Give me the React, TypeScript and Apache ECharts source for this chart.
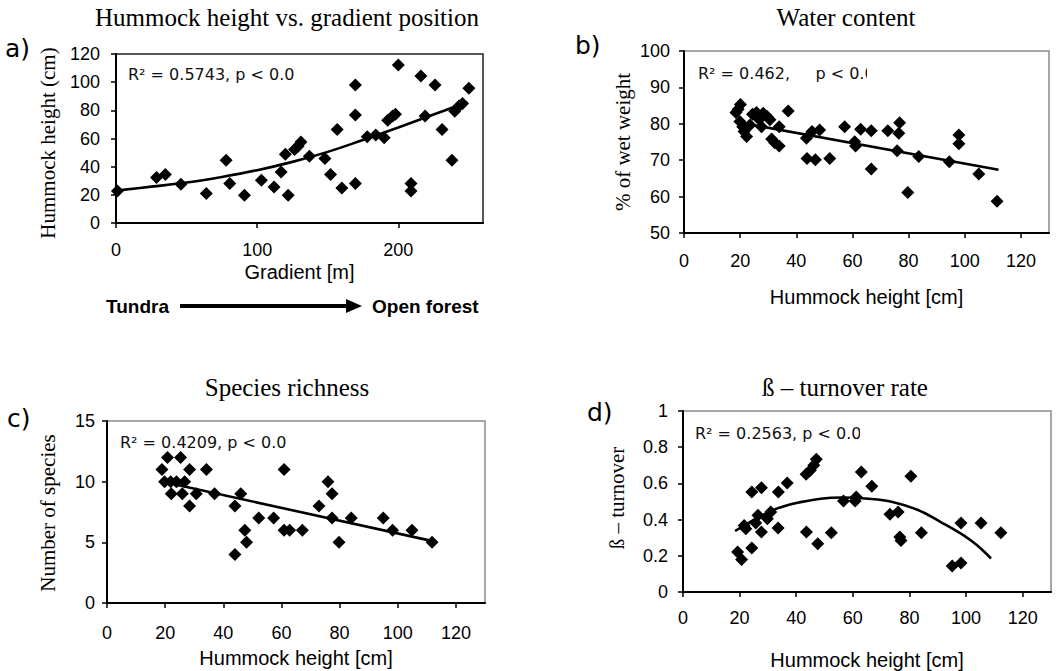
import React, { useEffect, useRef } from 'react';
import * as echarts from 'echarts';

// Panel a: gradient position [m] vs hummock height (cm)
const pointsA: [number, number][] = [
  [1, 22.8], [28.7, 32.3], [35, 34.4], [46, 27.5], [64, 20.9], [78, 44.6], [80.6, 28], [91, 19.7],
  [103, 30.4], [112, 25.6], [117, 36.3], [120, 48.8], [122, 19.7], [126.5, 52.2], [129, 54.5],
  [131, 57.6], [137, 47.4], [148, 45.8], [152, 34.4], [156.7, 66.4], [160, 24.9], [169.6, 28],
  [169.6, 76.6], [169.6, 97.9], [178, 61.2], [184, 62.4], [190, 60.5], [192.5, 73], [196, 75.9],
  [198, 77.3], [200, 112.2], [209, 28], [209, 22.8], [216, 104.3], [219, 75.9], [226, 97.9],
  [231, 66.4], [238, 44.6], [240, 79.4], [243, 83], [245.5, 84.9], [250, 95.6],
];
const trendA: [number, number][] = [
  [0, 23], [25, 25.8], [50, 28.7], [75, 32.7], [100, 37.5], [125, 43.4], [150, 50.5],
  [175, 59], [200, 67.8], [225, 77], [249, 86],
];

// Panel b: hummock height [cm] vs water content (% of wet weight)
const pointsB: [number, number][] = [
  [18.5, 83.1], [20.1, 85.3], [19.3, 84], [19.9, 80.6], [20.9, 79.2], [21.4, 77.9], [22.3, 76.5],
  [23.5, 79.7], [24.4, 82.6], [25.8, 83.1], [26.8, 81.2], [27.6, 79.2], [28.2, 82.9], [29.6, 82],
  [30.6, 81.1], [31.2, 75.8], [32.3, 74.8], [33.9, 73.9], [33.9, 79.2], [37.1, 83.5], [43.6, 76],
  [43.8, 70.5], [45.6, 77.9], [46.8, 70.1], [48.3, 78.3], [51.9, 70.5], [57.2, 79.2], [60.8, 75.1],
  [61.1, 73.9], [62.9, 78.5], [66.7, 78.1], [66.7, 67.6], [72.6, 78.1], [75.9, 72.6], [76.5, 77.4],
  [76.8, 80.3], [79.7, 61.1], [83.6, 71], [94.5, 69.6], [97.9, 76.9], [97.9, 74.5], [105, 66.2],
  [111.5, 58.7],
];
const trendB: [number, number][] = [[20, 80.3], [112, 67.4]];

// Panel c: hummock height [cm] vs number of species
const pointsC: [number, number][] = [
  [18.9, 11], [20.8, 12], [19.8, 10], [21.9, 10], [22.1, 9], [25.3, 12], [23.9, 10], [25.9, 9],
  [26.7, 10], [28.4, 11], [28.4, 8], [30.7, 9], [34.2, 11], [37, 9], [44, 8], [44, 4], [46, 9],
  [47.4, 6], [48, 5], [52.2, 7], [57.3, 7], [60.9, 11], [60.9, 6], [62.8, 6], [67.2, 6], [72.9, 8],
  [76, 10], [77.4, 9], [77.4, 7], [79.8, 5], [84, 7], [95, 7], [98.2, 6], [104.9, 6], [111.8, 5],
];
const trendC: [number, number][] = [[20, 9.95], [112, 5.1]];

// Panel d: hummock height [cm] vs beta turnover
const pointsD: [number, number][] = [
  [19.3, 0.221], [20.7, 0.179], [21.6, 0.368], [22.2, 0.35], [24.3, 0.552], [24.3, 0.243],
  [25.7, 0.381], [26.5, 0.424], [27.7, 0.576], [27.7, 0.331], [29.8, 0.405], [31, 0.442],
  [33.6, 0.354], [33.7, 0.552], [36.8, 0.602], [43.6, 0.331], [43.5, 0.65], [45, 0.672],
  [46.2, 0.7], [47.1, 0.733], [47.6, 0.267], [52.4, 0.328], [56.7, 0.503], [60.8, 0.503],
  [61.2, 0.525], [63, 0.663], [66.7, 0.584], [73.1, 0.429], [76, 0.442], [76.6, 0.304],
  [77, 0.285], [80.5, 0.639], [84.2, 0.328], [95.1, 0.144], [98.2, 0.16], [98.2, 0.381],
  [105.3, 0.381], [112.3, 0.328],
];
const trendD: [number, number][] = [
  [18.4, 0.337], [31.6, 0.451], [40.9, 0.495], [56.1, 0.522], [65.5, 0.515], [74, 0.497],
  [83, 0.453], [91.2, 0.385], [99.4, 0.31], [104.1, 0.255], [108.8, 0.185],
];

const titles = ['Hummock height vs. gradient position', 'Water content', 'Species richness', 'ß – turnover rate'];
const letters = ['a)', 'b)', 'c)', 'd)'];
const yNames = ['Hummock height (cm)', '% of wet weight', 'Number of species', 'ß – turnover'];
const xNames = ['Gradient [m]', 'Hummock height [cm]', 'Hummock height [cm]', 'Hummock height [cm]'];
const statTexts = [
  'R² = 0.5743, p < 0.05',
  'R² = 0.462,\u00a0\u00a0\u00a0\u00a0 p < 0.05',
  'R² = 0.4209, p < 0.05',
  'R² = 0.2563, p < 0.05',
];
const yRanges: [number, number, number][] = [[0, 120, 20], [50, 100, 10], [0, 15, 5], [0, 1, 0.2]];
const xRanges: [number, number, number][] = [[0, 260, 100], [0, 130, 20], [0, 130, 20], [0, 130, 20]];

const SANS = '"Liberation Sans", Arial, sans-serif';
const SERIF = '"Liberation Serif", "Times New Roman", serif';
const DJ = '"DejaVu Sans", Verdana, sans-serif';

export default function App() {
  const ref = useRef<HTMLDivElement>(null);
  useEffect(() => {
    if (!ref.current) return;
    const chart = echarts.init(ref.current, undefined, { renderer: 'svg' });
    const grids = [
      { left: 116, top: 54, width: 367, height: 169, borderColor: '#222' },
      { left: 684, top: 51, width: 365, height: 182, borderColor: '#8a8a8a' },
      { left: 107, top: 421, width: 378, height: 182, borderColor: '#8a8a8a' },
      { left: 683, top: 411, width: 368, height: 181, borderColor: '#8a8a8a' },
    ];
    const xGaps = [39, 54, 45, 58];
    const xLabelMargins = [18, 19, 21, 17];
    const yLabelMargins = [16, 14, 12, 15];
    const axisLine = { show: true, onZero: false, lineStyle: { color: '#000', width: 2 } };
    const axisTick = { show: true, length: 5, lineStyle: { color: '#000', width: 1.5 } };

    const xAxis = xRanges.map((r, i) => ({
      type: 'value', gridIndex: i, min: r[0], max: r[1], interval: r[2],
      name: xNames[i], nameLocation: 'middle', nameGap: xGaps[i],
      nameTextStyle: { fontFamily: SANS, fontSize: 20, color: '#000' },
      axisLine, axisTick, splitLine: { show: false },
      axisLabel: { showMaxLabel: false, margin: xLabelMargins[i], fontFamily: SANS, fontSize: 18, color: '#000' },
    }));
    const yAxis = yRanges.map((r, i) => ({
      type: 'value', gridIndex: i, min: r[0], max: r[1], interval: r[2],
      axisLine, axisTick, splitLine: { show: false },
      axisLabel: { margin: yLabelMargins[i], fontFamily: SANS, fontSize: 18, color: '#000' },
    }));

    const pts = [pointsA, pointsB, pointsC, pointsD];
    const trends = [trendA, trendB, trendC, trendD];
    const series: any[] = [];
    pts.forEach((p, i) => {
      series.push({
        type: 'scatter', xAxisIndex: i, yAxisIndex: i, data: p, symbol: 'diamond', symbolSize: 13,
        itemStyle: { color: '#000', opacity: 1 },
      });
      series.push({
        type: 'line', xAxisIndex: i, yAxisIndex: i, data: trends[i], showSymbol: false, symbol: 'none',
        smooth: i === 0 || i === 3 ? 0.4 : false, lineStyle: { color: '#000', width: 2.6 }, z: 3,
      });
    });

    const titlePos = [[287, 17], [846, 17], [287, 387], [845, 387]];
    const letterPos = [[5, 48], [575, 45], [7, 418], [587, 412]];
    const statPos = [[128, 74], [698, 73], [120, 442], [695, 433]];
    const clipX = [295, 867, 286, 860];
    const yNamePos = [[48, 143], [623, 142], [48, 513], [617, 498]];

    const graphic: any[] = [];
    titles.forEach((t, i) => {
      graphic.push({
        type: 'text', x: titlePos[i][0], y: titlePos[i][1], z: 100,
        style: { text: t, fill: '#000', font: `25px ${SERIF}`, textAlign: 'center', textVerticalAlign: 'middle', align: 'center', verticalAlign: 'middle' },
      });
      graphic.push({
        type: 'text', x: yNamePos[i][0], y: yNamePos[i][1], rotation: Math.PI / 2, z: 100,
        style: { text: yNames[i], fill: '#000', font: `21px ${SERIF}`, textAlign: 'center', textVerticalAlign: 'middle', align: 'center', verticalAlign: 'middle' },
      });
      graphic.push({
        type: 'text', x: letterPos[i][0], y: letterPos[i][1], z: 100,
        style: { text: letters[i], fill: '#000', font: `25px ${DJ}`, textAlign: 'left', textVerticalAlign: 'middle', align: 'left', verticalAlign: 'middle' },
      });
      graphic.push({
        type: 'text', x: statPos[i][0], y: statPos[i][1], z: 100,
        style: { text: statTexts[i], fill: '#111', font: `16px ${DJ}`, textAlign: 'left', textVerticalAlign: 'middle', align: 'left', verticalAlign: 'middle' },
      });
      graphic.push({
        type: 'rect', z: 101, shape: { x: clipX[i], y: statPos[i][1] - 12, width: 50, height: 24 },
        style: { fill: '#fff' },
      });
    });
    // gradient arrow
    graphic.push({
      type: 'text', x: 106, y: 306, z: 100,
      style: { text: 'Tundra', fill: '#000', font: `bold 19px ${SANS}`, textAlign: 'left', textVerticalAlign: 'middle', align: 'left', verticalAlign: 'middle' },
    });
    graphic.push({
      type: 'text', x: 372, y: 306, z: 100,
      style: { text: 'Open forest', fill: '#000', font: `bold 19px ${SANS}`, textAlign: 'left', textVerticalAlign: 'middle', align: 'left', verticalAlign: 'middle' },
    });
    graphic.push({ type: 'line', z: 100, shape: { x1: 180, y1: 306, x2: 350, y2: 306 }, style: { stroke: '#000', lineWidth: 4 } });
    graphic.push({ type: 'polygon', z: 100, shape: { points: [[346, 299], [362, 306], [346, 313]] }, style: { fill: '#000' } });

    chart.setOption({
      animation: false,
      backgroundColor: '#fff',
      grid: grids.map((g) => ({ left: g.left, top: g.top, width: g.width, height: g.height, show: true, borderColor: g.borderColor, borderWidth: 1.5, backgroundColor: 'transparent', containLabel: false })),
      xAxis, yAxis, series, graphic,
    });
    return () => chart.dispose();
  }, []);
  return <div ref={ref} style={{ position: 'fixed', left: 0, top: 0, width: 1058, height: 671 }} />;
}
